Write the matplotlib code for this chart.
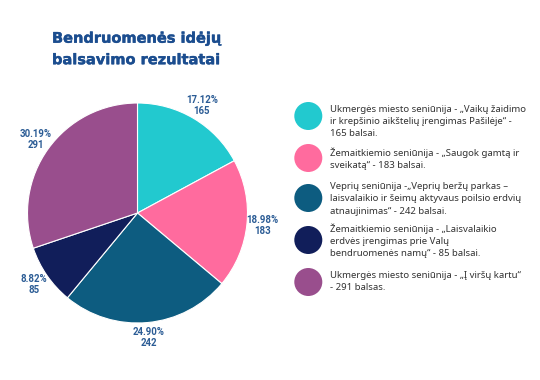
import matplotlib
matplotlib.use("Agg")
import matplotlib.pyplot as plt
from matplotlib.patches import Circle
import matplotlib.patheffects as pe

values = [165, 183, 242, 85, 291]
percents = [17.12, 18.98, 24.90, 8.82, 30.19]
colors = ["#22C9CF", "#FF6B9E", "#0D5C80", "#111E5A", "#994E8D"]
legend_texts = [
    "Ukmergės miesto seniūnija - „Vaikų žaidimo\nir krepšinio aikštelių įrengimas Pašilėje“ -\n165 balsai.",
    "Žemaitkiemio seniūnija - „Saugok gamtą ir\nsveikatą“ - 183 balsai.",
    "Veprių seniūnija -„Veprių beržų parkas –\nlaisvalaikio ir šeimų aktyvaus poilsio erdvių\natnaujinimas“ - 242 balsai.",
    "Žemaitkiemio seniūnija - „Laisvalaikio\nerdvės įrengimas prie Valų\nbendruomenės namų“ - 85 balsai.",
    "Ukmergės miesto seniūnija - „Į viršų kartu“\n- 291 balsas.",
]
title_lines = ["Bendruomenės idėjų", "balsavimo rezultatai"]

W, H = 540, 380
fig = plt.figure(figsize=(W / 100, H / 100), dpi=100)
fig.patch.set_facecolor("white")

# pie axes: center (137.5, 213) px, radius 110 px
cx, cy, r = 137.5, 213, 110
ax = fig.add_axes([(cx - r) / W, (H - cy - r) / H, 2 * r / W, 2 * r / H])
labels = [f"{p:.2f}%\n{v}" for p, v in zip(percents, values)]
wedges, texts = ax.pie(percents, colors=colors, startangle=90, counterclock=False,
                       labels=labels, labeldistance=1.14, normalize=True,
                       wedgeprops=dict(linewidth=0.8, edgecolor="white"),
                       textprops=dict(fontsize=6.9, color="#2B5C95",
                                      fontweight="bold", family="Roboto"))
for t in texts:
    t.set_ha("center")
    t.set_va("center")
    t.set_linespacing(1.1)
ax.set_xlim(-1, 1)
ax.set_ylim(-1, 1)
ax.set_aspect("equal")
ax.axis("off")

# overlay axes in pixel coordinates for title and legend
ov = fig.add_axes([0, 0, 1, 1])
ov.set_xlim(0, W)
ov.set_ylim(H, 0)
ov.axis("off")

for i, line in enumerate(title_lines):
    ov.text(52, 42.7 + i * 21.5, line, fontsize=10.5, fontweight="bold",
            color="#1B4D8F", family="DejaVu Sans", ha="left", va="baseline",
            path_effects=[pe.withStroke(linewidth=0.3, foreground="#1B4D8F")])

circle_y = [116, 158, 198, 240, 282]
first_baseline = [111.7, 156, 188.7, 231.7, 277.7]
line_step = 12.4
for cyy, by, col, txt in zip(circle_y, first_baseline, colors, legend_texts):
    ov.add_patch(Circle((308.3, cyy), 14, color=col, lw=0))
    for j, line in enumerate(txt.split("\n")):
        ov.text(330, by + j * line_step, line, fontsize=6.9, color="#333333",
                family="Noto Sans", ha="left", va="baseline")

fig.savefig("out.png", dpi=100, facecolor="white")
